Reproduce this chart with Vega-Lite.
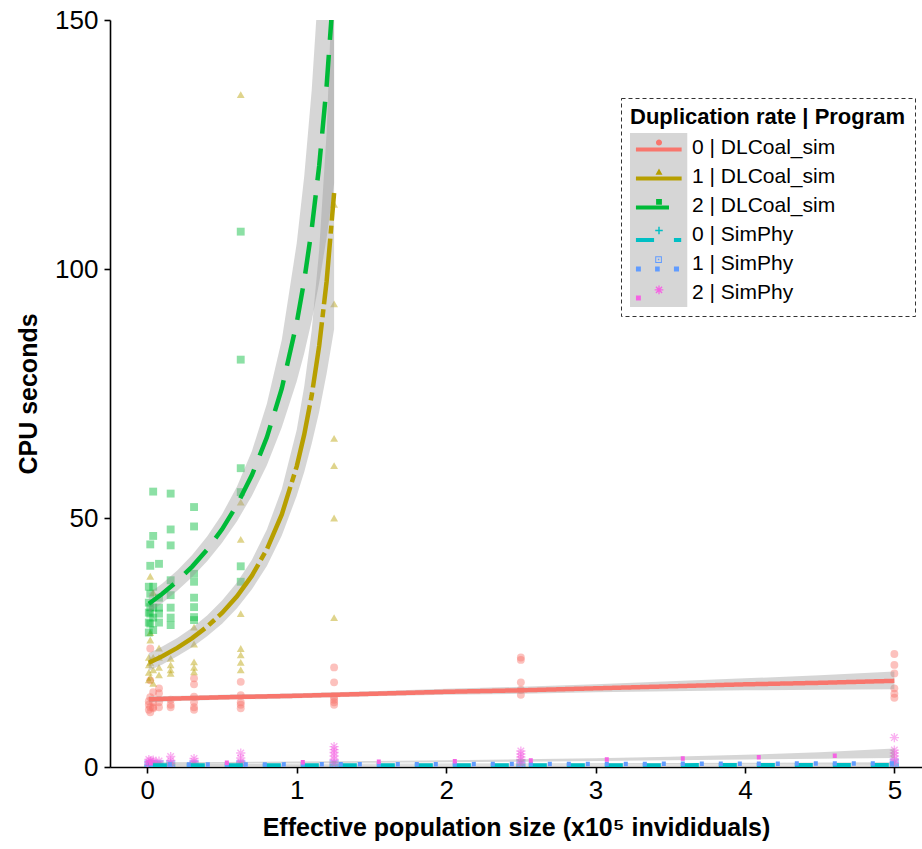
{
  "$schema": "https://vega.github.io/schema/vega-lite/v6.json",
  "width": 812,
  "height": 747,
  "autosize": {"type": "none"},
  "padding": {"left": 110, "top": 20, "right": 0, "bottom": 82},
  "config": {"view": {"stroke": null}, "font": "Liberation Sans", "legend": {"strokeDash": [4, 3], "strokeWidth": 1}},
  "datasets": {
    "pts": [
      {"g":"D0","x":0.0098,"y":12.5},{"g":"D0","x":0.0098,"y":11.5},{"g":"D0","x":0.0098,"y":13.2},
      {"g":"D0","x":0.0195,"y":11},{"g":"D0","x":0.0195,"y":12},{"g":"D0","x":0.0195,"y":14},{"g":"D0","x":0.0195,"y":17.4},{"g":"D0","x":0.0195,"y":23.8},
      {"g":"D0","x":0.039,"y":12},{"g":"D0","x":0.039,"y":13},{"g":"D0","x":0.039,"y":15},{"g":"D0","x":0.039,"y":11.8},
      {"g":"D0","x":0.078,"y":15.8},{"g":"D0","x":0.078,"y":14.8},{"g":"D0","x":0.078,"y":13},{"g":"D0","x":0.078,"y":12},
      {"g":"D0","x":0.156,"y":12},{"g":"D0","x":0.156,"y":12.5},{"g":"D0","x":0.156,"y":13.5},
      {"g":"D0","x":0.3125,"y":17.8},{"g":"D0","x":0.3125,"y":16.6},{"g":"D0","x":0.3125,"y":14.1},{"g":"D0","x":0.3125,"y":13},{"g":"D0","x":0.3125,"y":12},{"g":"D0","x":0.3125,"y":11.5},
      {"g":"D0","x":0.625,"y":17.1},{"g":"D0","x":0.625,"y":14.4},{"g":"D0","x":0.625,"y":13},{"g":"D0","x":0.625,"y":12.5},{"g":"D0","x":0.625,"y":11.8},
      {"g":"D0","x":1.25,"y":20},{"g":"D0","x":1.25,"y":17},{"g":"D0","x":1.25,"y":14},{"g":"D0","x":1.25,"y":13.5},{"g":"D0","x":1.25,"y":13},{"g":"D0","x":1.25,"y":12.5},
      {"g":"D0","x":2.5,"y":22},{"g":"D0","x":2.5,"y":21.5},{"g":"D0","x":2.5,"y":17},{"g":"D0","x":2.5,"y":15.5},{"g":"D0","x":2.5,"y":14.5},
      {"g":"D0","x":5,"y":22.7},{"g":"D0","x":5,"y":20.5},{"g":"D0","x":5,"y":18.8},{"g":"D0","x":5,"y":15.8},{"g":"D0","x":5,"y":14.7},{"g":"D0","x":5,"y":13.9},
      {"g":"D1","x":0.0098,"y":17.5},{"g":"D1","x":0.0098,"y":19},{"g":"D1","x":0.0098,"y":20.5},{"g":"D1","x":0.0098,"y":22},
      {"g":"D1","x":0.0195,"y":18},{"g":"D1","x":0.0195,"y":21},{"g":"D1","x":0.0195,"y":25.5},{"g":"D1","x":0.0195,"y":27},{"g":"D1","x":0.0195,"y":38.3},
      {"g":"D1","x":0.039,"y":16.8},{"g":"D1","x":0.039,"y":19.5},{"g":"D1","x":0.039,"y":22},{"g":"D1","x":0.039,"y":35},
      {"g":"D1","x":0.078,"y":18.5},{"g":"D1","x":0.078,"y":20},{"g":"D1","x":0.078,"y":22},{"g":"D1","x":0.078,"y":23.9},
      {"g":"D1","x":0.156,"y":18.8},{"g":"D1","x":0.156,"y":19.5},{"g":"D1","x":0.156,"y":20.5},{"g":"D1","x":0.156,"y":21.8},
      {"g":"D1","x":0.3125,"y":19.1},{"g":"D1","x":0.3125,"y":20},{"g":"D1","x":0.3125,"y":21.1},{"g":"D1","x":0.3125,"y":24.7},{"g":"D1","x":0.3125,"y":28.1},
      {"g":"D1","x":0.625,"y":135},{"g":"D1","x":0.625,"y":53.2},{"g":"D1","x":0.625,"y":45.7},{"g":"D1","x":0.625,"y":30.8},{"g":"D1","x":0.625,"y":23.8},{"g":"D1","x":0.625,"y":22.5},{"g":"D1","x":0.625,"y":21},{"g":"D1","x":0.625,"y":19.5},
      {"g":"D1","x":1.25,"y":113},{"g":"D1","x":1.25,"y":93},{"g":"D1","x":1.25,"y":66},{"g":"D1","x":1.25,"y":60.5},{"g":"D1","x":1.25,"y":50},{"g":"D1","x":1.25,"y":30},
      {"g":"D2","x":0.0098,"y":27},{"g":"D2","x":0.0098,"y":29},{"g":"D2","x":0.0098,"y":31},{"g":"D2","x":0.0098,"y":33},{"g":"D2","x":0.0098,"y":36.2},
      {"g":"D2","x":0.0195,"y":28.8},{"g":"D2","x":0.0195,"y":30.8},{"g":"D2","x":0.0195,"y":32.1},{"g":"D2","x":0.0195,"y":34.8},{"g":"D2","x":0.0195,"y":40.4},{"g":"D2","x":0.0195,"y":44.7},
      {"g":"D2","x":0.039,"y":27.5},{"g":"D2","x":0.039,"y":30},{"g":"D2","x":0.039,"y":32},{"g":"D2","x":0.039,"y":36.2},{"g":"D2","x":0.039,"y":46.4},{"g":"D2","x":0.039,"y":55.3},
      {"g":"D2","x":0.078,"y":29},{"g":"D2","x":0.078,"y":30.8},{"g":"D2","x":0.078,"y":32},{"g":"D2","x":0.078,"y":34},{"g":"D2","x":0.078,"y":40.8},
      {"g":"D2","x":0.156,"y":28.5},{"g":"D2","x":0.156,"y":30},{"g":"D2","x":0.156,"y":32},{"g":"D2","x":0.156,"y":34.5},{"g":"D2","x":0.156,"y":37.5},{"g":"D2","x":0.156,"y":44.5},{"g":"D2","x":0.156,"y":47.7},{"g":"D2","x":0.156,"y":54.9},
      {"g":"D2","x":0.3125,"y":29.5},{"g":"D2","x":0.3125,"y":30.1},{"g":"D2","x":0.3125,"y":32.1},{"g":"D2","x":0.3125,"y":34},{"g":"D2","x":0.3125,"y":37.2},{"g":"D2","x":0.3125,"y":38.8},{"g":"D2","x":0.3125,"y":48.3},{"g":"D2","x":0.3125,"y":52.2},
      {"g":"D2","x":0.625,"y":107.5},{"g":"D2","x":0.625,"y":81.8},{"g":"D2","x":0.625,"y":60},{"g":"D2","x":0.625,"y":55.2},{"g":"D2","x":0.625,"y":40.3},{"g":"D2","x":0.625,"y":37.2},
      {"g":"S0","x":0.0098,"y":0.15},{"g":"S0","x":0.0195,"y":0.3},{"g":"S0","x":0.039,"y":0.2},{"g":"S0","x":0.078,"y":0.3},{"g":"S0","x":0.156,"y":0.2},{"g":"S0","x":0.3125,"y":0.3},{"g":"S0","x":0.625,"y":0.25},{"g":"S0","x":1.25,"y":0.3},{"g":"S0","x":2.5,"y":0.3},{"g":"S0","x":5,"y":0.4},
      {"g":"S1","x":0.0098,"y":0.4},{"g":"S1","x":0.0195,"y":0.5},{"g":"S1","x":0.039,"y":0.4},{"g":"S1","x":0.078,"y":0.5},{"g":"S1","x":0.156,"y":0.45},{"g":"S1","x":0.3125,"y":0.5},{"g":"S1","x":0.625,"y":0.5},{"g":"S1","x":1.25,"y":0.55},{"g":"S1","x":2.5,"y":0.6},{"g":"S1","x":5,"y":0.8},
      {"g":"S2","x":0.0098,"y":0.5},{"g":"S2","x":0.0098,"y":1.0},{"g":"S2","x":0.0098,"y":1.5},
      {"g":"S2","x":0.0195,"y":0.6},{"g":"S2","x":0.0195,"y":1.2},
      {"g":"S2","x":0.039,"y":0.5},{"g":"S2","x":0.039,"y":1.0},{"g":"S2","x":0.039,"y":1.4},
      {"g":"S2","x":0.078,"y":0.5},{"g":"S2","x":0.078,"y":1.2},
      {"g":"S2","x":0.156,"y":0.7},{"g":"S2","x":0.156,"y":1.3},{"g":"S2","x":0.156,"y":2.1},
      {"g":"S2","x":0.3125,"y":0.6},{"g":"S2","x":0.3125,"y":1.1},{"g":"S2","x":0.3125,"y":1.7},
      {"g":"S2","x":0.625,"y":0.6},{"g":"S2","x":0.625,"y":1.0},{"g":"S2","x":0.625,"y":1.8},{"g":"S2","x":0.625,"y":2.8},
      {"g":"S2","x":1.25,"y":0.8},{"g":"S2","x":1.25,"y":1.5},{"g":"S2","x":1.25,"y":2.2},{"g":"S2","x":1.25,"y":2.9},{"g":"S2","x":1.25,"y":3.5},{"g":"S2","x":1.25,"y":4.1},
      {"g":"S2","x":2.5,"y":0.8},{"g":"S2","x":2.5,"y":1.5},{"g":"S2","x":2.5,"y":2.0},{"g":"S2","x":2.5,"y":2.6},{"g":"S2","x":2.5,"y":3.2},
      {"g":"S2","x":5,"y":0.8},{"g":"S2","x":5,"y":1.5},{"g":"S2","x":5,"y":2.2},{"g":"S2","x":5,"y":2.8},{"g":"S2","x":5,"y":3.4},{"g":"S2","x":5,"y":5.9}
    ],
    "fit": [
      {"g":"D0","x":0.0098,"y":13.6,"lo":13.0,"hi":14.2},{"g":"D0","x":0.25,"y":13.8,"lo":13.3,"hi":14.3},{"g":"D0","x":0.5,"y":14.0,"lo":13.5,"hi":14.5},{"g":"D0","x":1,"y":14.3,"lo":13.8,"hi":14.8},{"g":"D0","x":1.5,"y":14.7,"lo":14.2,"hi":15.2},{"g":"D0","x":2,"y":15.1,"lo":14.5,"hi":15.7},{"g":"D0","x":2.5,"y":15.4,"lo":14.7,"hi":16.1},{"g":"D0","x":3,"y":15.8,"lo":15.0,"hi":16.6},{"g":"D0","x":3.5,"y":16.2,"lo":15.2,"hi":17.2},{"g":"D0","x":4,"y":16.6,"lo":15.4,"hi":17.8},{"g":"D0","x":4.5,"y":16.9,"lo":15.5,"hi":18.4},{"g":"D0","x":5,"y":17.3,"lo":15.6,"hi":19.2},
      {"g":"D1","x":0.0098,"y":20.92,"lo":19.31,"hi":22.83},{"g":"D1","x":0.1,"y":22.25,"lo":20.6,"hi":24.18},{"g":"D1","x":0.2,"y":23.92,"lo":22.22,"hi":25.91},{"g":"D1","x":0.3,"y":25.88,"lo":24.07,"hi":27.98},{"g":"D1","x":0.4,"y":28.18,"lo":26.25,"hi":30.41},{"g":"D1","x":0.5,"y":30.93,"lo":28.79,"hi":33.41},{"g":"D1","x":0.6,"y":34.27,"lo":31.87,"hi":37.06},{"g":"D1","x":0.7,"y":38.42,"lo":35.68,"hi":41.62},{"g":"D1","x":0.8,"y":43.72,"lo":40.37,"hi":47.68},{"g":"D1","x":0.9,"y":50.72,"lo":46.48,"hi":55.82},{"g":"D1","x":1.0,"y":60.38,"lo":54.46,"hi":67.74},{"g":"D1","x":1.05,"y":66.74,"lo":59.23,"hi":76.43},{"g":"D1","x":1.1,"y":74.59,"lo":64.91,"hi":87.67},{"g":"D1","x":1.15,"y":84.53,"lo":71.28,"hi":103.8},{"g":"D1","x":1.2,"y":97.54,"lo":79.04,"hi":127.4},{"g":"D1","x":1.25,"y":115.27,"lo":87.91,"hi":167.4},
      {"g":"D2","x":0.0098,"y":32.78,"lo":30.95,"hi":34.83},{"g":"D2","x":0.1,"y":34.78,"lo":32.95,"hi":36.83},{"g":"D2","x":0.2,"y":37.31,"lo":35.39,"hi":39.44},{"g":"D2","x":0.3,"y":40.24,"lo":38.16,"hi":42.55},{"g":"D2","x":0.4,"y":43.66,"lo":41.31,"hi":46.29},{"g":"D2","x":0.5,"y":47.72,"lo":45.03,"hi":50.75},{"g":"D2","x":0.6,"y":52.62,"lo":49.37,"hi":56.32},{"g":"D2","x":0.7,"y":58.63,"lo":54.48,"hi":63.46},{"g":"D2","x":0.8,"y":66.19,"lo":60.58,"hi":72.95},{"g":"D2","x":0.9,"y":76.0,"lo":68.22,"hi":85.78},{"g":"D2","x":1.0,"y":89.22,"lo":77.47,"hi":105.2},{"g":"D2","x":1.05,"y":97.71,"lo":83.1,"hi":118.6},{"g":"D2","x":1.1,"y":108.0,"lo":89.61,"hi":135.9},{"g":"D2","x":1.15,"y":120.7,"lo":97.23,"hi":159.1},{"g":"D2","x":1.2,"y":136.8,"lo":106.3,"hi":191.9},{"g":"D2","x":1.25,"y":157.8,"lo":117.2,"hi":241.8},
      {"g":"S0","x":0.0098,"y":0.3,"lo":0.22,"hi":0.4},{"g":"S0","x":1,"y":0.3,"lo":0.22,"hi":0.4},{"g":"S0","x":2,"y":0.31,"lo":0.23,"hi":0.41},{"g":"S0","x":3,"y":0.32,"lo":0.23,"hi":0.43},{"g":"S0","x":4,"y":0.33,"lo":0.23,"hi":0.45},{"g":"S0","x":5,"y":0.35,"lo":0.24,"hi":0.48},
      {"g":"S1","x":0.0098,"y":0.5,"lo":0.4,"hi":0.6},{"g":"S1","x":1,"y":0.53,"lo":0.43,"hi":0.63},{"g":"S1","x":2,"y":0.57,"lo":0.46,"hi":0.69},{"g":"S1","x":3,"y":0.61,"lo":0.48,"hi":0.76},{"g":"S1","x":4,"y":0.66,"lo":0.5,"hi":0.85},{"g":"S1","x":5,"y":0.72,"lo":0.52,"hi":0.97},
      {"g":"S2","x":0.0098,"y":0.75,"lo":0.55,"hi":0.95},{"g":"S2","x":0.5,"y":0.83,"lo":0.65,"hi":1.02},{"g":"S2","x":1,"y":0.93,"lo":0.75,"hi":1.12},{"g":"S2","x":1.5,"y":1.03,"lo":0.85,"hi":1.23},{"g":"S2","x":2,"y":1.15,"lo":0.95,"hi":1.37},{"g":"S2","x":2.5,"y":1.3,"lo":1.07,"hi":1.55},{"g":"S2","x":3,"y":1.47,"lo":1.2,"hi":1.78},{"g":"S2","x":3.5,"y":1.68,"lo":1.35,"hi":2.06},{"g":"S2","x":4,"y":1.92,"lo":1.5,"hi":2.45},{"g":"S2","x":4.5,"y":2.2,"lo":1.65,"hi":2.95},{"g":"S2","x":5,"y":2.55,"lo":1.8,"hi":3.7}
    ]
  },
  "encoding": {
    "x": {
      "field": "x", "type": "quantitative",
      "scale": {"domain": [-0.25, 5.185], "nice": false, "zero": false},
      "axis": {
        "values": [0, 1, 2, 3, 4, 5], "format": "d", "grid": false,
        "title": "Effective population size (x10⁵ invididuals)",
        "domainColor": "black", "domainWidth": 1.6, "tickColor": "black", "tickWidth": 1.6, "tickSize": 6,
        "labelFont": "Liberation Sans", "labelFontSize": 26, "labelColor": "black", "labelPadding": 4,
        "titleFont": "Liberation Sans", "titleFontSize": 25, "titleFontWeight": "bold", "titleColor": "black", "titlePadding": 12
      }
    },
    "y": {
      "field": "y", "type": "quantitative",
      "scale": {"domain": [0, 150], "nice": false, "zero": false},
      "axis": {
        "values": [0, 50, 100, 150], "format": "d", "grid": false,
        "title": "CPU seconds",
        "domainColor": "black", "domainWidth": 1.6, "tickColor": "black", "tickWidth": 1.6, "tickSize": 6,
        "labelFont": "Liberation Sans", "labelFontSize": 26, "labelColor": "black", "labelPadding": 6,
        "titleFont": "Liberation Sans", "titleFontSize": 25, "titleFontWeight": "bold", "titleColor": "black", "titlePadding": 13
      }
    }
  },
  "layer": [
    {
      "data": {"name": "pts"},
      "transform": [{"filter": "indexof(datum.g, 'D') == 0"}],
      "mark": {"type": "point", "filled": true, "size": 62, "opacity": 0.45, "clip": true},
      "encoding": {
        "color": {"field": "g", "type": "nominal", "scale": {"domain": ["D0", "D1", "D2"], "range": ["#F8766D", "#B79F00", "#00BA38"]}, "legend": null},
        "shape": {"field": "g", "type": "nominal", "scale": {"domain": ["D0", "D1", "D2"], "range": ["circle", "triangle-up", "square"]}, "legend": null}
      }
    },
    {
      "data": {"name": "pts"},
      "transform": [{"filter": "indexof(datum.g, 'S') == 0"}],
      "mark": {"type": "point", "filled": true, "size": 85, "opacity": 0.5, "clip": true},
      "encoding": {
        "color": {"field": "g", "type": "nominal", "scale": {"domain": ["S0", "S1", "S2"], "range": ["#00BFC4", "#619CFF", "#F564E3"]}, "legend": null},
        "shape": {"field": "g", "type": "nominal", "scale": {"domain": ["S0", "S1", "S2"], "range": ["cross", "square", "M-1,-0.15H1V0.15H-1Z M-0.15,-1H0.15V1H-0.15Z M-0.601,-0.813L0.813,0.601L0.601,0.813L-0.813,-0.601Z M0.813,-0.601L-0.601,0.813L-0.813,0.601L0.601,-0.813Z"]}, "legend": null}
      }
    },
    {
      "data": {"name": "fit"},
      "mark": {"type": "area", "color": "#999999", "opacity": 0.4, "clip": true},
      "encoding": {
        "y": {
          "field": "lo", "type": "quantitative",
          "scale": {"domain": [0, 150], "nice": false, "zero": false},
          "axis": {
            "values": [0, 50, 100, 150], "format": "d", "grid": false,
            "title": "CPU seconds",
            "domainColor": "black", "domainWidth": 1.6, "tickColor": "black", "tickWidth": 1.6, "tickSize": 6,
            "labelFont": "Liberation Sans", "labelFontSize": 26, "labelColor": "black", "labelPadding": 6,
            "titleFont": "Liberation Sans", "titleFontSize": 25, "titleFontWeight": "bold", "titleColor": "black", "titlePadding": 13
          }
        },
        "y2": {"field": "hi"},
        "detail": {"field": "g", "type": "nominal"}
      }
    },
    {
      "data": {"name": "fit"},
      "mark": {"type": "line", "strokeWidth": 4.5, "clip": true, "strokeCap": "butt"},
      "encoding": {
        "color": {"field": "g", "type": "nominal", "scale": {"domain": ["D0", "D1", "D2", "S0", "S1", "S2"], "range": ["#F8766D", "#B79F00", "#00BA38", "#00BFC4", "#619CFF", "#F564E3"]}, "legend": null},
        "strokeDash": {"field": "g", "type": "nominal", "scale": {"domain": ["D0", "D1", "D2", "S0", "S1", "S2"], "range": [[1, 0], [66, 5, 8, 5], [32, 15], [18, 20], [4, 15], [4, 72]]}, "legend": null}
      }
    },
    {
      "data": {"name": "fit"},
      "transform": [{"filter": "false"}],
      "mark": {"type": "point", "filled": true, "color": "#d6d6d6", "opacity": 1, "size": 841},
      "encoding": {
        "shape": {
          "field": "g", "type": "nominal",
          "scale": {"domain": ["0 | DLCoal_sim", "1 | DLCoal_sim", "2 | DLCoal_sim", "0 | SimPhy", "1 | SimPhy", "2 | SimPhy"],
                    "range": ["M-1,-1H2.95V1H-1Z", "M-1,-1H2.95V1H-1Z", "M-1,-1H2.95V1H-1Z", "M-1,-1H2.95V1H-1Z", "M-1,-1H2.95V1H-1Z", "M-1,-1H2.95V1H-1Z"]},
          "legend": {
            "title": "Duplication rate | Program", "orient": "none", "legendX": 511, "legendY": 78, "padding": 9, "zindex": 0,
            "titleFont": "Liberation Sans", "titleFontSize": 22, "titleFontWeight": "bold", "titleColor": "transparent", "titlePadding": 4, "titleLimit": 500,
            "labelFont": "Liberation Sans", "labelFontSize": 21, "labelColor": "transparent", "labelOffset": 33, "labelLimit": 400,
            "rowPadding": -1, "symbolSize": 841, "symbolStrokeWidth": 0, "symbolOpacity": 1, "symbolFillColor": "#d6d6d6",
            "strokeColor": "#333333"
          }
        }
      }
    },
    {
      "data": {"name": "fit"},
      "transform": [{"filter": "false"}],
      "mark": {"type": "point", "filled": true, "opacity": 1, "size": 841},
      "encoding": {
        "color": {
          "field": "g", "type": "nominal",
          "scale": {"domain": ["0 | DLCoal_sim", "1 | DLCoal_sim", "2 | DLCoal_sim", "0 | SimPhy", "1 | SimPhy", "2 | SimPhy"], "range": ["#F8766D", "#B79F00", "#00BA38", "#00BFC4", "#619CFF", "#F564E3"]},
          "legend": {
            "title": "Duplication rate | Program", "orient": "none", "legendX": 511, "legendY": 78, "padding": 9, "zindex": 1,
            "titleFont": "Liberation Sans", "titleFontSize": 22, "titleFontWeight": "bold", "titleColor": "black", "titlePadding": 4, "titleLimit": 500,
            "labelFont": "Liberation Sans", "labelFontSize": 21, "labelColor": "black", "labelOffset": 33, "labelLimit": 400,
            "rowPadding": -1, "symbolSize": 841, "symbolStrokeWidth": 0, "symbolOpacity": 1
          }
        },
        "shape": {
          "field": "g", "type": "nominal",
          "scale": {"domain": ["0 | DLCoal_sim", "1 | DLCoal_sim", "2 | DLCoal_sim", "0 | SimPhy", "1 | SimPhy", "2 | SimPhy"],
                    "range": [
                      "M1,-1L1,-1Z M1,1L1,1Z M-0.59,0H2.56V0.28H-0.59Z M0.79,-0.34A0.21,0.21 0 1,1 1.21,-0.34A0.21,0.21 0 1,1 0.79,-0.34Z",
                      "M1,-1L1,-1Z M1,1L1,1Z M-0.59,0H2.56V0.28H-0.59Z M1,-0.56L1.24,-0.12L0.76,-0.12Z",
                      "M1,-1L1,-1Z M1,1L1,1Z M-0.59,0H1.69V0.28H-0.59Z M0.8,-0.45H1.2V-0.05H0.8Z",
                      "M1,-1L1,-1Z M1,1L1,1Z M-0.59,0.24H0.66V0.52H-0.59Z M2.03,0.24H2.53V0.52H2.03Z M0.74,-0.32H1.26V-0.22H0.74Z M0.95,-0.53H1.05V-0.01H0.95Z",
                      "M1,-1L1,-1Z M1,1L1,1Z M-0.59,0.21H-0.25V0.55H-0.59Z M0.73,0.21H1.05V0.55H0.73Z M2.03,0.21H2.38V0.55H2.03Z M0.74,-0.5H1.2V-0.04H0.74Z M0.81,-0.43V-0.11H1.13V-0.43Z M0.92,-0.32H1.02V-0.22H0.92Z",
                      "M1,-1L1,-1Z M1,1L1,1Z M-0.59,0.21H-0.25V0.55H-0.59Z M0.7,-0.225H1.3V-0.135H0.7Z M0.955,-0.48H1.045V0.12H0.955Z M0.82,-0.424L1.244,0L1.18,0.064L0.756,-0.36Z M1.244,-0.36L0.82,0.064L0.756,0L1.18,-0.424Z"
                    ]},
          "legend": {
            "title": "Duplication rate | Program", "orient": "none", "legendX": 511, "legendY": 78, "padding": 9, "zindex": 1,
            "titleFont": "Liberation Sans", "titleFontSize": 22, "titleFontWeight": "bold", "titleColor": "black", "titlePadding": 4, "titleLimit": 500,
            "labelFont": "Liberation Sans", "labelFontSize": 21, "labelColor": "black", "labelOffset": 33, "labelLimit": 400,
            "rowPadding": -1, "symbolSize": 841, "symbolStrokeWidth": 0, "symbolOpacity": 1
          }
        }
      }
    }
  ],
  "resolve": {"scale": {"color": "independent", "shape": "independent", "strokeDash": "independent"}}
}
